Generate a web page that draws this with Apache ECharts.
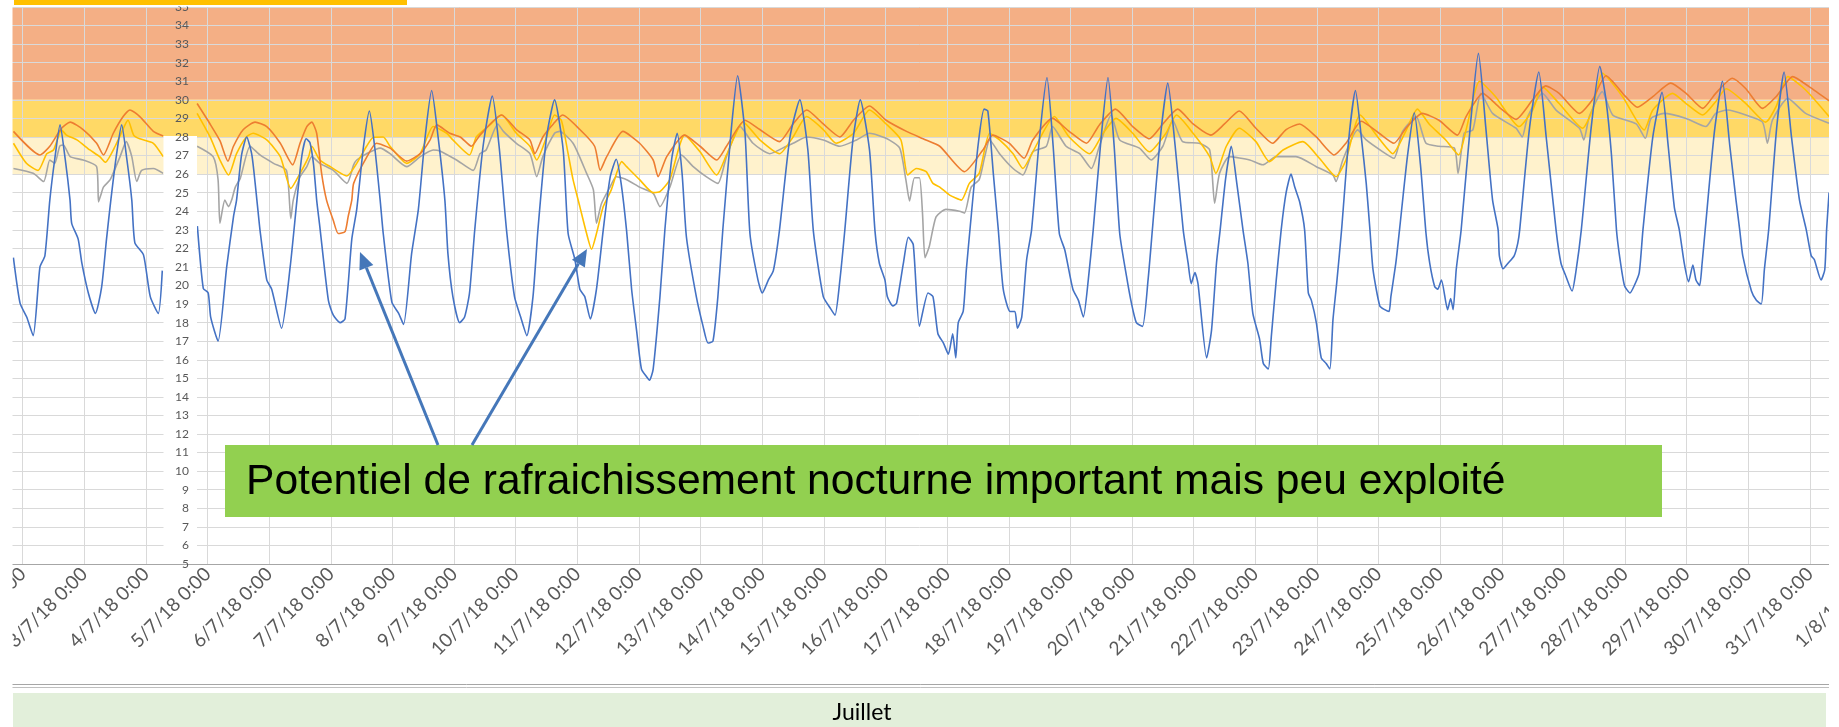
<!DOCTYPE html>
<html><head><meta charset="utf-8">
<script src="https://cdn.jsdelivr.net/npm/echarts@6.0.0/dist/echarts.min.js"></script>
<style>html,body{margin:0;padding:0;background:#fff}#c{width:1839px;height:727px}</style>
</head><body><div id="c"></div>
<script>
// x values: day of July 2018 with fractional hours (5.5 = 5/7/18 12:00)
const tickLabels = ['1/7/18 0:00','2/7/18 0:00','3/7/18 0:00','4/7/18 0:00','5/7/18 0:00','6/7/18 0:00','7/7/18 0:00','8/7/18 0:00','9/7/18 0:00','10/7/18 0:00','11/7/18 0:00','12/7/18 0:00','13/7/18 0:00','14/7/18 0:00','15/7/18 0:00','16/7/18 0:00','17/7/18 0:00','18/7/18 0:00','19/7/18 0:00','20/7/18 0:00','21/7/18 0:00','22/7/18 0:00','23/7/18 0:00','24/7/18 0:00','25/7/18 0:00','26/7/18 0:00','27/7/18 0:00','28/7/18 0:00','29/7/18 0:00','30/7/18 0:00','31/7/18 0:00','1/8/18 0:00'];
const bandLimits = [[30,35],[28,30],[26,28]];
const monthLabel = 'Juillet';
const noteText = 'Potentiel de rafraichissement nocturne important mais peu exploité';

const outdoor = [[1.849,21.5],[1.957,19.05],[2.065,18.3],[2.17,17.3],[2.28,21.0],[2.36,21.6],[2.44,24.6],[2.52,26.8],[2.606,28.65],[2.69,26.8],[2.768,24.6],[2.795,23.35],[2.9,22.5],[2.96,21.2],[3.065,19.6],[3.18,18.5],[3.28,19.9],[3.36,22.5],[3.43,24.6],[3.52,27.0],[3.606,28.65],[3.69,26.8],[3.77,24.6],[3.82,22.3],[3.96,21.65],[4.07,19.4],[4.2,18.5],[4.265,20.8],[4.5,null],
[4.834,23.2],[4.93,19.85],[5.01,19.6],[5.05,18.3],[5.17,17.0],[5.31,21.0],[5.42,23.7],[5.47,24.6],[5.55,27.0],[5.634,28.0],[5.72,27.0],[5.8,24.6],[5.85,23.0],[5.96,20.3],[6.04,19.8],[6.2,17.7],[6.34,21.0],[6.45,24.6],[6.53,27.0],[6.6,27.9],[6.66,27.7],[6.72,26.5],[6.77,24.6],[6.82,23.2],[6.96,19.2],[7.04,18.4],[7.15,18.0],[7.23,18.2],[7.34,22.5],[7.42,24.1],[7.53,27.5],[7.625,29.4],[7.71,27.5],[7.8,24.6],[7.85,22.8],[7.99,19.1],[8.1,18.5],[8.18,17.9],[8.31,21.7],[8.42,24.1],[8.53,28.0],[8.636,30.5],[8.74,28.0],[8.85,24.6],[8.9,21.7],[8.98,19.4],[9.09,18.0],[9.17,18.3],[9.25,19.6],[9.335,23.0],[9.47,27.5],[9.62,30.2],[9.73,27.5],[9.85,23.0],[9.98,19.4],[10.08,18.3],[10.18,17.3],[10.28,19.4],[10.36,23.0],[10.5,28.0],[10.63,30.0],[10.77,27.3],[10.85,22.8],[10.96,21.4],[11.04,19.8],[11.12,19.4],[11.21,18.2],[11.31,19.8],[11.42,23.0],[11.53,25.8],[11.63,26.8],[11.71,25.5],[11.8,22.9],[11.88,19.8],[11.96,17.6],[12.04,15.5],[12.12,15.1],[12.17,14.9],[12.23,15.5],[12.34,19.4],[12.42,23.0],[12.53,26.8],[12.62,28.2],[12.7,26.0],[12.77,22.6],[12.93,19.4],[13.04,17.8],[13.12,16.9],[13.2,17.0],[13.28,19.4],[13.36,23.0],[13.5,28.5],[13.6,31.3],[13.72,28.2],[13.8,22.8],[13.93,20.3],[14.0,19.6],[14.1,20.3],[14.18,20.8],[14.28,23.0],[14.45,28.0],[14.61,30.0],[14.74,27.3],[14.83,22.9],[14.99,19.4],[15.1,18.8],[15.18,18.4],[15.26,20.3],[15.34,23.0],[15.47,27.8],[15.59,30.0],[15.74,27.3],[15.83,22.9],[15.9,21.2],[15.99,20.3],[16.03,19.4],[16.12,18.9],[16.18,19.05],[16.29,21.2],[16.37,22.6],[16.45,22.2],[16.55,17.8],[16.69,19.6],[16.77,19.4],[16.85,17.4],[16.94,16.9],[17.02,16.3],[17.09,17.4],[17.14,16.1],[17.18,18.0],[17.26,18.6],[17.31,20.8],[17.37,23.0],[17.5,27.5],[17.6,29.5],[17.66,29.4],[17.75,26.0],[17.83,23.0],[17.91,19.8],[18.02,18.6],[18.1,18.6],[18.14,17.7],[18.21,18.3],[18.29,21.4],[18.37,23.0],[18.5,28.0],[18.62,31.2],[18.72,27.5],[18.82,22.8],[18.91,21.9],[19.04,19.8],[19.13,19.2],[19.21,18.3],[19.29,20.3],[19.37,23.0],[19.5,28.0],[19.61,31.2],[19.71,27.5],[19.8,22.8],[19.91,20.5],[19.99,19.05],[20.07,18.0],[20.17,17.8],[20.26,20.3],[20.33,23.0],[20.46,28.0],[20.58,30.9],[20.7,27.5],[20.83,23.0],[20.91,21.2],[20.96,20.1],[21.02,20.7],[21.07,20.1],[21.21,16.1],[21.29,17.6],[21.37,21.2],[21.43,23.0],[21.52,25.8],[21.61,27.5],[21.7,25.5],[21.8,23.0],[21.88,21.2],[21.96,18.5],[22.07,17.1],[22.13,15.8],[22.21,15.5],[22.26,17.25],[22.34,20.3],[22.42,23.0],[22.5,25.0],[22.58,26.0],[22.64,25.3],[22.72,24.5],[22.8,23.0],[22.86,19.6],[22.91,19.2],[22.99,18.0],[23.07,16.1],[23.15,15.8],[23.21,15.5],[23.26,18.15],[23.32,20.1],[23.4,23.0],[23.52,28.0],[23.625,30.5],[23.72,28.0],[23.8,25.5],[23.86,23.0],[23.91,20.85],[24.02,18.9],[24.1,18.7],[24.17,18.6],[24.2,19.4],[24.28,21.2],[24.34,23.0],[24.47,27.0],[24.58,29.3],[24.68,26.5],[24.77,22.8],[24.83,21.2],[24.91,19.95],[24.96,19.8],[25.02,20.3],[25.12,18.7],[25.17,19.3],[25.21,18.7],[25.26,20.85],[25.34,23.0],[25.5,29.0],[25.62,32.5],[25.74,28.5],[25.85,24.6],[25.94,23.0],[25.96,21.6],[26.02,20.9],[26.1,21.2],[26.2,21.6],[26.26,22.3],[26.29,23.0],[26.45,28.5],[26.6,31.5],[26.72,28.0],[26.88,23.0],[26.96,21.2],[27.04,20.5],[27.14,19.7],[27.2,20.7],[27.29,23.0],[27.45,28.5],[27.59,31.8],[27.69,30.0],[27.78,27.0],[27.86,23.0],[27.91,21.6],[27.99,20.0],[28.08,19.6],[28.15,20.0],[28.23,20.7],[28.29,23.0],[28.45,28.0],[28.6,30.4],[28.7,27.5],[28.8,24.2],[28.88,23.0],[28.96,21.2],[29.03,20.2],[29.1,21.1],[29.15,20.3],[29.21,20.0],[29.25,21.2],[29.3,23.0],[29.45,28.3],[29.58,31.0],[29.7,27.5],[29.8,24.6],[29.86,23.0],[29.91,21.6],[30.05,19.7],[30.13,19.2],[30.21,19.0],[30.26,20.85],[30.33,23.0],[30.46,28.5],[30.58,31.5],[30.7,28.0],[30.83,24.6],[30.94,23.0],[31.02,21.6],[31.07,21.4],[31.18,20.3],[31.24,20.85],[31.27,23.0],[31.31,25.0]];

const indoorOrange = [[1.85,28.3],[2.28,27.03],[2.44,27.5],[2.63,28.47],[2.77,28.8],[2.98,28.4],[3.2,27.66],[3.31,27.03],[3.47,28.2],[3.63,29.1],[3.74,29.45],[3.9,29.1],[4.12,28.3],[4.28,28.05],[4.5,null],
[4.83,29.8],[5.04,28.7],[5.2,27.8],[5.33,26.7],[5.42,27.5],[5.58,28.4],[5.77,28.8],[5.96,28.56],[6.18,27.66],[6.38,26.5],[6.5,27.66],[6.61,28.56],[6.69,28.8],[6.77,28.2],[6.85,26.04],[6.93,24.6],[7.04,23.5],[7.12,22.8],[7.23,22.9],[7.28,23.7],[7.34,24.6],[7.37,25.5],[7.58,26.9],[7.74,27.66],[7.96,27.4],[8.23,26.7],[8.45,27.1],[8.61,27.84],[8.72,28.65],[8.93,28.2],[9.1,28.0],[9.28,27.5],[9.42,28.1],[9.77,29.18],[10.01,28.4],[10.23,27.84],[10.31,27.1],[10.44,28.0],[10.61,28.7],[10.76,29.18],[11.04,28.4],[11.28,27.5],[11.37,26.2],[11.47,26.9],[11.74,28.3],[12.01,27.66],[12.23,26.76],[12.31,25.86],[12.45,26.94],[12.74,28.1],[12.99,27.5],[13.26,26.76],[13.42,27.5],[13.72,28.9],[13.96,28.4],[14.28,27.75],[14.5,28.7],[14.72,29.45],[14.99,28.7],[15.26,28.0],[15.48,28.9],[15.74,29.67],[16.01,28.9],[16.34,28.3],[16.61,27.9],[16.88,27.5],[17.28,26.13],[17.58,27.3],[17.74,28.1],[18.01,27.66],[18.25,26.85],[18.39,27.84],[18.71,29.0],[18.98,28.3],[19.26,27.66],[19.47,28.65],[19.73,29.5],[20.01,28.56],[20.28,27.9],[20.5,28.7],[20.74,29.5],[20.99,28.7],[21.28,28.1],[21.5,28.7],[21.74,29.4],[22.01,28.47],[22.28,27.66],[22.5,28.4],[22.72,28.7],[22.99,28.0],[23.28,27.03],[23.47,27.66],[23.72,28.85],[24.01,28.2],[24.25,27.66],[24.45,28.5],[24.71,29.27],[24.98,28.9],[25.28,28.1],[25.42,29.1],[25.69,30.35],[25.96,29.6],[26.23,28.95],[26.5,30.0],[26.71,30.75],[26.93,30.35],[27.26,29.27],[27.47,30.0],[27.69,31.3],[28.01,30.17],[28.2,29.6],[28.45,30.17],[28.74,30.9],[28.99,30.35],[29.26,29.54],[29.47,30.35],[29.74,31.16],[29.96,30.6],[30.23,29.54],[30.45,30.17],[30.72,31.25],[30.99,30.7],[31.31,29.95]];

const indoorYellow = [[1.85,27.66],[2.06,26.58],[2.25,26.2],[2.39,27.1],[2.5,27.3],[2.63,28.38],[2.71,28.1],[2.88,27.84],[3.09,27.3],[3.25,26.94],[3.34,26.64],[3.5,27.5],[3.66,28.65],[3.71,28.9],[3.8,28.1],[3.9,27.9],[4.12,27.66],[4.28,26.94],[4.5,null],
[4.83,29.27],[5.04,28.0],[5.2,26.76],[5.34,25.95],[5.47,27.1],[5.63,28.0],[5.74,28.2],[5.96,27.84],[6.18,26.94],[6.35,25.23],[6.5,26.04],[6.64,26.94],[6.69,27.5],[6.82,26.76],[6.99,26.4],[7.26,25.9],[7.42,26.58],[7.58,27.5],[7.69,27.98],[7.85,28.0],[7.96,27.5],[8.23,26.58],[8.45,27.1],[8.66,28.56],[8.88,28.2],[8.98,27.84],[9.25,27.03],[9.36,28.0],[9.58,28.65],[9.77,29.18],[10.01,28.2],[10.23,27.5],[10.34,26.76],[10.5,28.0],[10.63,29.18],[10.74,28.9],[10.85,27.1],[10.93,25.7],[11.04,24.25],[11.15,22.8],[11.23,21.95],[11.31,22.8],[11.42,24.25],[11.55,25.15],[11.72,26.67],[11.8,26.4],[12.01,25.7],[12.23,25.0],[12.34,25.05],[12.5,25.7],[12.74,28.1],[12.99,27.2],[13.26,25.95],[13.42,27.03],[13.69,28.8],[13.96,27.84],[14.28,27.1],[14.5,28.0],[14.72,29.1],[14.99,28.4],[15.2,27.66],[15.48,28.2],[15.74,29.45],[16.01,28.7],[16.25,27.84],[16.36,25.95],[16.5,26.3],[16.66,26.13],[16.77,25.5],[16.88,25.3],[17.04,24.87],[17.23,24.6],[17.36,25.5],[17.52,26.04],[17.69,28.2],[17.85,27.84],[18.07,27.1],[18.23,26.3],[18.39,27.2],[18.74,29.1],[18.98,28.0],[19.31,27.1],[19.53,28.2],[19.74,29.0],[20.01,28.2],[20.28,27.2],[20.55,28.2],[20.72,29.18],[20.99,28.2],[21.26,26.94],[21.36,26.04],[21.53,27.5],[21.74,28.47],[22.01,27.75],[22.23,26.67],[22.45,27.3],[22.77,27.75],[23.04,26.85],[23.31,25.86],[23.47,26.76],[23.7,29.18],[24.01,27.9],[24.23,27.1],[24.44,28.3],[24.63,29.5],[24.82,28.7],[25.09,27.84],[25.3,27.03],[25.42,28.38],[25.64,31.0],[25.9,30.17],[26.28,28.56],[26.5,29.45],[26.66,30.7],[26.93,29.8],[27.31,28.47],[27.47,29.45],[27.63,31.43],[27.96,30.17],[28.31,28.38],[28.45,29.45],[28.77,30.35],[28.99,29.8],[29.26,29.18],[29.47,29.9],[29.64,30.6],[29.96,29.8],[30.28,28.8],[30.45,29.63],[30.64,31.25],[30.93,30.53],[31.31,29.1]];

const indoorGray = [[1.85,26.3],[2.17,26.04],[2.34,25.6],[2.44,26.76],[2.52,26.58],[2.6,27.5],[2.66,27.57],[2.77,26.94],[2.98,26.76],[3.2,26.4],[3.23,24.5],[3.27,24.9],[3.31,25.3],[3.42,25.7],[3.58,26.94],[3.68,27.75],[3.77,26.94],[3.85,25.6],[3.93,26.2],[4.12,26.3],[4.28,26.04],[4.5,null],
[4.83,27.5],[5.09,26.94],[5.17,25.7],[5.2,23.35],[5.28,24.6],[5.34,24.25],[5.39,24.6],[5.45,25.3],[5.53,25.77],[5.69,27.5],[5.85,27.03],[6.07,26.58],[6.28,26.2],[6.35,23.6],[6.39,24.6],[6.5,25.86],[6.61,26.4],[6.69,26.94],[6.82,26.58],[7.04,26.2],[7.26,25.5],[7.37,26.5],[7.42,26.76],[7.58,27.1],[7.8,27.4],[7.96,27.1],[8.23,26.4],[8.45,26.94],[8.66,27.3],[8.77,27.25],[9.04,26.76],[9.31,26.2],[9.42,27.1],[9.52,27.3],[9.71,28.7],[9.8,28.3],[10.01,27.66],[10.23,27.1],[10.34,25.86],[10.44,26.94],[10.63,28.2],[10.71,28.3],[10.93,27.66],[11.15,26.04],[11.26,25.15],[11.31,23.35],[11.39,24.4],[11.53,25.3],[11.63,25.86],[11.8,25.7],[12.01,25.3],[12.23,24.96],[12.34,24.25],[12.5,25.3],[12.69,27.03],[12.88,26.4],[13.09,25.86],[13.28,25.5],[13.42,26.94],[13.64,28.56],[13.85,27.66],[14.12,27.1],[14.39,27.5],[14.5,27.66],[14.72,28.0],[14.99,27.84],[15.26,27.5],[15.53,27.84],[15.74,28.2],[16.01,27.93],[16.23,27.4],[16.33,25.7],[16.39,24.55],[16.47,25.8],[16.55,25.8],[16.6,23.9],[16.64,21.5],[16.71,22.1],[16.82,23.7],[16.98,24.1],[17.2,24.0],[17.28,23.9],[17.39,25.3],[17.52,25.7],[17.61,26.94],[17.69,27.84],[17.85,27.1],[18.07,26.3],[18.23,25.95],[18.39,27.2],[18.61,27.5],[18.71,28.56],[18.93,27.5],[19.15,27.1],[19.34,26.3],[19.47,27.5],[19.66,29.18],[19.8,27.84],[20.12,27.4],[20.31,26.76],[20.5,27.5],[20.66,28.9],[20.82,27.75],[21.09,27.66],[21.26,27.3],[21.34,24.43],[21.42,26.04],[21.58,26.94],[21.91,26.76],[22.12,26.5],[22.34,26.94],[22.66,26.94],[22.99,26.4],[23.26,25.95],[23.31,25.6],[23.42,26.76],[23.66,28.38],[23.8,27.84],[24.07,27.2],[24.25,26.85],[24.39,28.3],[24.61,29.1],[24.77,27.66],[24.98,27.5],[25.23,27.4],[25.29,26.04],[25.39,28.2],[25.53,28.38],[25.66,30.35],[25.85,29.27],[26.23,28.47],[26.33,28.0],[26.42,29.1],[26.66,30.35],[26.88,29.45],[27.26,28.47],[27.33,27.84],[27.42,29.1],[27.63,30.44],[27.8,29.18],[28.18,28.7],[28.33,27.93],[28.42,29.0],[28.63,29.27],[28.99,29.0],[29.31,28.56],[29.47,29.27],[29.66,29.45],[29.96,29.18],[30.23,28.8],[30.31,27.66],[30.39,28.9],[30.64,30.08],[30.93,29.27],[31.31,28.74]];

const chart = echarts.init(document.getElementById('c'), null, {renderer: 'canvas'});
const bandColors = ['#F4AF85', '#FFD966', '#FFF2CC'];
const font = 'Lato, "Noto Sans", sans-serif';

function arrow(sx, sy, tx, ty) {
  const dx = tx - sx, dy = ty - sy, L = Math.hypot(dx, dy);
  const ux = dx / L, uy = dy / L, hl = 17, hw = 7.5;
  const bx = tx - ux * hl, by = ty - uy * hl, nx = -uy, ny = ux;
  return [
    {type: 'line', z: 8, shape: {x1: sx, y1: sy, x2: bx, y2: by}, style: {stroke: '#4577B9', lineWidth: 3}},
    {type: 'polygon', z: 8, shape: {points: [[tx, ty], [bx + nx * hw, by + ny * hw], [bx - nx * hw, by - ny * hw]]}, style: {fill: '#4577B9'}}
  ];
}

const lineSeries = (name, data, color, w) => ({
  name, type: 'line', data, showSymbol: false, symbol: 'none', smooth: 0.2,
  connectNulls: false, lineStyle: {color, width: w}, z: 2, animation: false
});

chart.setOption({
  animation: false,
  backgroundColor: '#fff',
  grid: {left: -38.93, right: -32.6, top: 7, bottom: 163, outerBoundsMode: 'none', containLabel: false},
  xAxis: {
    type: 'value', min: 1, max: 32, interval: 1, z: 1.5,
    axisLine: {show: true, lineStyle: {color: '#A6A6A6', width: 1.2}},
    axisTick: {show: false},
    splitLine: {show: true, lineStyle: {color: '#D9D9D9', width: 1}},
    axisLabel: {
      rotate: 45, margin: 7, color: '#595959', fontSize: 19, fontFamily: font,
      formatter: v => tickLabels[Math.round(v) - 1] || ''
    }
  },
  yAxis: [
    {type: 'value', min: 5, max: 35, interval: 1, z: 1.5,
     axisLine: {show: false}, axisTick: {show: false}, axisLabel: {show: false},
     splitLine: {show: true, lineStyle: {color: '#D9D9D9', width: 1}}},
    {type: 'value', min: 5, max: 35, interval: 1, position: 'left', offset: -231.9, z: 5,
     axisLine: {show: false}, axisTick: {show: false}, splitLine: {show: false},
     axisLabel: {margin: 4, color: '#595959', fontSize: 12, fontFamily: font}}
  ],
  series: [
    {type: 'line', data: [[1, 5]], showSymbol: false, lineStyle: {opacity: 0}, z: 0, silent: true,
     markArea: {silent: true, z: 0, data: bandLimits.map((b, i) => [{yAxis: b[0], itemStyle: {color: bandColors[i]}}, {yAxis: b[1]}])}},
    lineSeries('gray', indoorGray, '#A5A5A5', 1.6),
    lineSeries('yellow', indoorYellow, '#FFC000', 1.6),
    lineSeries('orange', indoorOrange, '#ED7D31', 1.6),
    lineSeries('outdoor', outdoor, '#4472C4', 1.6)
  ],
  graphic: {elements: [
    {type: 'rect', z: 3, shape: {x: 163.5, y: 136, width: 33.5, height: 427.5}, style: {fill: '#fff'}},
    {type: 'rect', z: 3, shape: {x: 0, y: 0, width: 12.5, height: 727}, style: {fill: '#fff'}},
    {type: 'rect', z: 3, shape: {x: 1829, y: 0, width: 10, height: 727}, style: {fill: '#fff'}},
    {type: 'rect', z: 6, shape: {x: 0, y: 0, width: 1839, height: 6.5}, style: {fill: '#fff'}},
    {type: 'rect', z: 7, shape: {x: 14, y: 0, width: 393, height: 5}, style: {fill: '#FFC000'}},
    {type: 'line', z: 7, shape: {x1: 12.5, y1: 684.5, x2: 1829, y2: 684.5}, style: {stroke: '#A6A6A6', lineWidth: 1}},
    {type: 'line', z: 7, shape: {x1: 12.5, y1: 687.5, x2: 1829, y2: 687.5}, style: {stroke: '#BFBFBF', lineWidth: 1}},
    {type: 'rect', z: 7, shape: {x: 13, y: 693, width: 1813, height: 34}, style: {fill: '#E2EFDA'}},
    {type: 'text', z: 8, x: 862, y: 713, style: {text: monthLabel, fill: '#000', font: '23px ' + font, align: 'center', verticalAlign: 'middle'}},
    {type: 'rect', z: 8, shape: {x: 225, y: 445, width: 1437, height: 72}, style: {fill: '#92D050'}},
    {type: 'text', z: 9, x: 246, y: 482, style: {text: noteText, fill: '#000', font: '42.6px "Liberation Sans", Arial, sans-serif', align: 'left', verticalAlign: 'middle'}},
    ...arrow(438, 445, 360, 252),
    ...arrow(472, 445, 587, 249)
  ]}
});
</script>
</body></html>
